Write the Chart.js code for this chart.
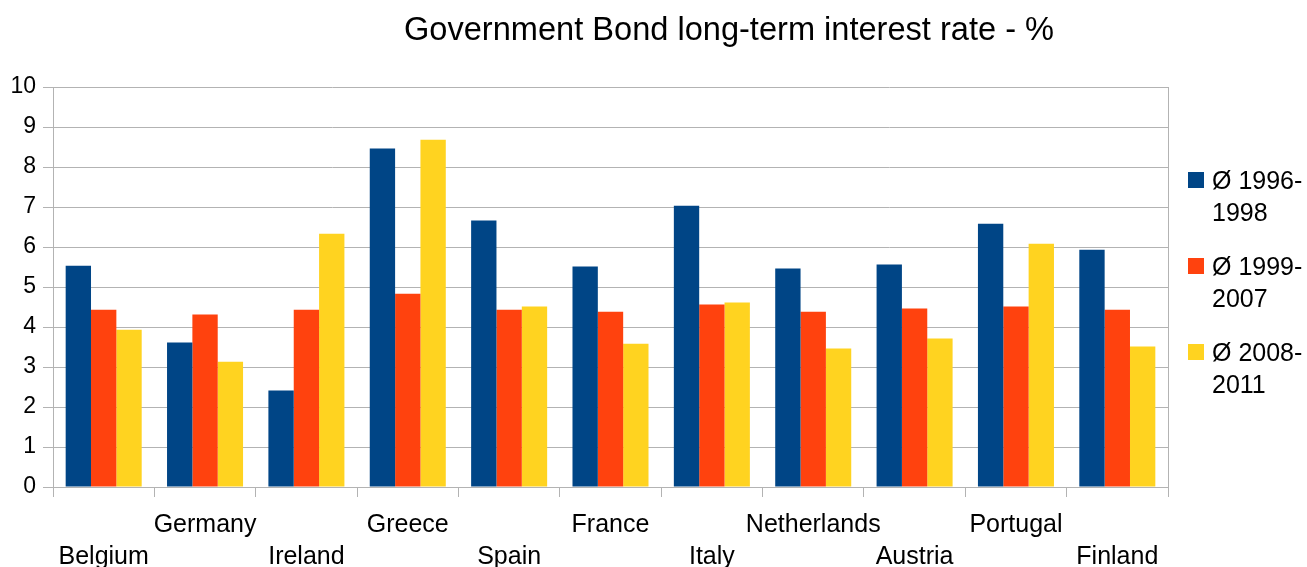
<!doctype html>
<html lang="en">

<head>
    <meta charset="utf-8">
    <title>Government Bond long-term interest rate</title>
    <style>
        * {
            margin: 0;
            padding: 0;
        }

        body {
            background: #ffffff;
        }

        .chartBox {
            width: 1307px;
            height: 567px;
        }
    </style>
</head>

<body>
    <div class="chartBox">
        <canvas id="myChart"></canvas>
    </div>

    <script src="https://cdn.jsdelivr.net/npm/chart.js"></script>
    <script>
        // data
        const countries = ['Belgium', 'Germany', 'Ireland', 'Greece', 'Spain', 'France', 'Italy', 'Netherlands', 'Austria', 'Portugal', 'Finland'];
        const avg1996to1998 = [5.53, 3.61, 2.41, 8.46, 6.66, 5.51, 7.03, 5.46, 5.56, 6.58, 5.93];
        const avg1999to2007 = [4.43, 4.31, 4.43, 4.83, 4.43, 4.38, 4.56, 4.38, 4.46, 4.51, 4.43];
        const avg2008to2011 = [3.93, 3.13, 6.33, 8.68, 4.51, 3.58, 4.61, 3.46, 3.71, 6.08, 3.51];
        const seriesNames = ['Ø 1996-1998', 'Ø 1999-2007', 'Ø 2008-2011'];
        const yTicks = [0, 1, 2, 3, 4, 5, 6, 7, 8, 9, 10];

        const FONT = "'Liberation Sans', Arial, sans-serif";
        const GRID = '#b3b3b3';

        // title, centred over the plot + legend block
        const titlePlugin = {
            id: 'bondTitle',
            afterDraw(chart) {
                const ctx = chart.ctx;
                ctx.save();
                ctx.fillStyle = '#000';
                ctx.font = '32.6px ' + FONT;
                ctx.textAlign = 'center';
                ctx.textBaseline = 'alphabetic';
                ctx.fillText('Government Bond long-term interest rate - %', 729, 40);
                ctx.restore();
            }
        };

        // right-hand frame line of the plot
        const framePlugin = {
            id: 'plotFrame',
            afterDraw(chart) {
                const a = chart.chartArea;
                const ctx = chart.ctx;
                ctx.save();
                ctx.strokeStyle = GRID;
                ctx.lineWidth = 1;
                ctx.beginPath();
                ctx.moveTo(Math.round(a.right) + 0.5, a.top);
                ctx.lineTo(Math.round(a.right) + 0.5, a.bottom + 10);
                ctx.stroke();
                ctx.restore();
            }
        };

        // legend with the period wrapped after the dash
        const legendPlugin = {
            id: 'wrapLegend',
            afterDraw(chart) {
                const ctx = chart.ctx;
                const x = chart.chartArea.right + 20;
                ctx.save();
                ctx.font = '25px ' + FONT;
                ctx.textBaseline = 'middle';
                ctx.textAlign = 'left';
                chart.data.datasets.forEach(function (ds, i) {
                    const y = 182 + i * 86;
                    ctx.fillStyle = ds.backgroundColor;
                    ctx.fillRect(x, y - 10, 16, 16);
                    ctx.fillStyle = '#000';
                    const parts = ds.label.match(/^(.*-)(.*)$/);
                    ctx.fillText(parts[1], x + 24, y);
                    ctx.fillText(parts[2], x + 24, y + 32);
                });
                ctx.restore();
            }
        };

        const data = {
            labels: countries,
            datasets: [
                { label: seriesNames[0], data: avg1996to1998, backgroundColor: '#004586' },
                { label: seriesNames[1], data: avg1999to2007, backgroundColor: '#ff420e' },
                { label: seriesNames[2], data: avg2008to2011, backgroundColor: '#ffd320' }
            ]
        };

        // config
        const config = {
            type: 'bar',
            data,
            options: {
                responsive: true,
                maintainAspectRatio: false,
                animation: false,
                layout: {
                    padding: { top: 87, right: 139, left: 0, bottom: 0 }
                },
                datasets: {
                    bar: {
                        categoryPercentage: 0.75,
                        barPercentage: 1.0,
                        borderWidth: 0
                    }
                },
                plugins: {
                    legend: { display: false },
                    title: { display: false },
                    tooltip: { enabled: false }
                },
                scales: {
                    x: {
                        grid: {
                            offset: true,
                            drawOnChartArea: false,
                            drawTicks: true,
                            tickLength: 10,
                            color: GRID
                        },
                        border: { color: GRID },
                        ticks: {
                            autoSkip: false,
                            maxRotation: 0,
                            padding: 12,
                            color: '#000',
                            font: { family: FONT, size: 25, lineHeight: 1.27 },
                            callback: function (value, index) {
                                return index % 2 === 0 ? ['', countries[index]] : countries[index];
                            }
                        },
                        afterFit: function (scale) { scale.height = 80; }
                    },
                    y: {
                        min: yTicks[0],
                        max: yTicks[yTicks.length - 1],
                        afterBuildTicks: function (scale) {
                            scale.ticks = yTicks.map(function (v) { return { value: v }; });
                        },
                        grid: {
                            color: GRID,
                            lineWidth: 1,
                            tickLength: 10
                        },
                        border: { color: GRID },
                        ticks: {
                            padding: 7,
                            color: '#000',
                            font: { family: FONT, size: 23 }
                        },
                        afterFit: function (scale) { scale.width = 53; }
                    }
                }
            },
            plugins: [titlePlugin, framePlugin, legendPlugin]
        };

        window.chart = new Chart(document.getElementById('myChart'), config);
    </script>
</body>

</html>
